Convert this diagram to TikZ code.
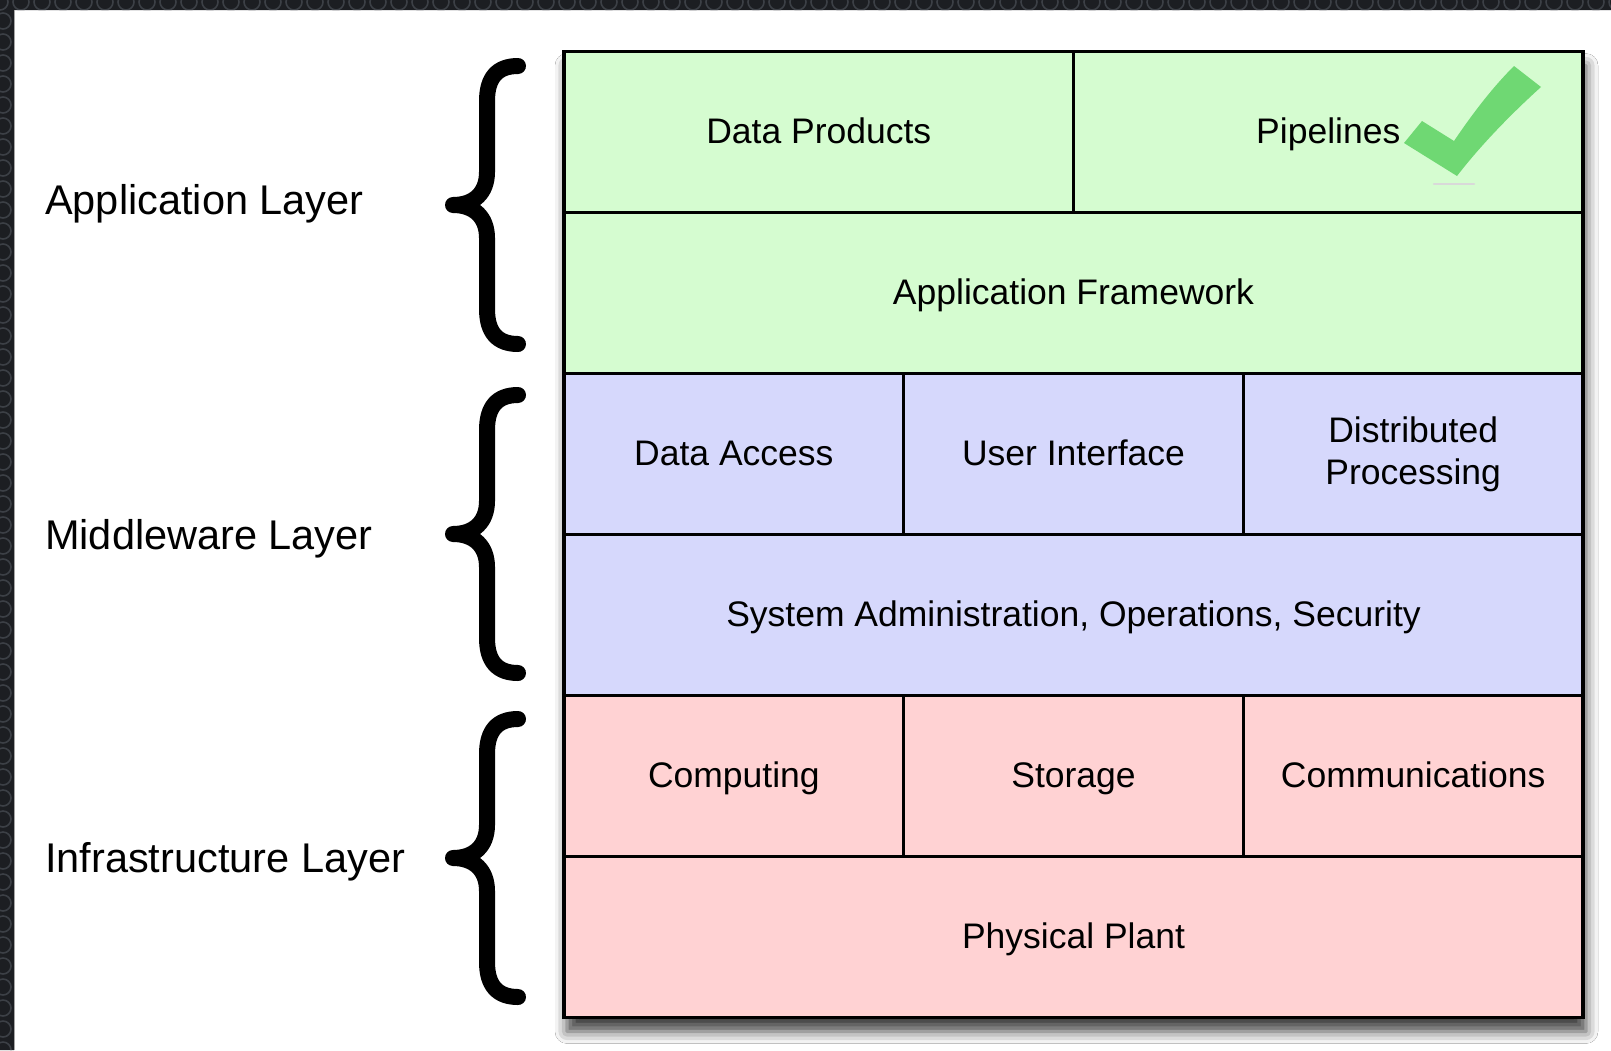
\documentclass[tikz,border=0pt]{standalone}
\usepackage{fontspec}
\setmainfont{Liberation Sans}
\usetikzlibrary{shadows.blur}

\definecolor{appgreen}{RGB}{213,252,208}
\definecolor{midblue}{RGB}{214,216,252}
\definecolor{infrapink}{RGB}{255,210,211}
\definecolor{tickgreen}{RGB}{111,216,115}
\definecolor{framedark}{RGB}{28,30,34}
\definecolor{framedot}{RGB}{60,64,70}

% curly brace with its tip at height #1
\newcommand\layerbrace[2]{%
  \draw[bracestroke] (518,#1-139) coordinate (#2-top)
    .. controls (497,#1-139) and (487,#1-127) .. (487,#1-104)
    -- (487,#1-33)
    .. controls (487,#1-12) and (474,#1) .. (453,#1) coordinate (#2)
    .. controls (474,#1) and (487,#1+12) .. (487,#1+33)
    -- (487,#1+104)
    .. controls (487,#1+127) and (497,#1+139) .. (518,#1+139) coordinate (#2-bottom);}

\begin{document}
\begin{tikzpicture}[x=1pt,y=-1pt,
  cell/.style={draw=black, line width=2.5pt, rectangle, inner sep=0pt,
    minimum height=161pt, font=\fontsize{35.5}{42}\selectfont,
    text height=25.5pt, text depth=3.5pt},
  half/.style={cell, minimum width=509.5pt},
  third/.style={cell, minimum width=339.67pt},
  whole/.style={cell, minimum width=1019pt},
  twoline/.style={draw=black, line width=2.5pt, rectangle, inner sep=0pt,
    minimum height=161pt, minimum width=339.67pt, align=center,
    font=\fontsize{35.5}{42}\selectfont},
  layerlabel/.style={anchor=west, inner sep=0pt,
    font=\fontsize{41.5}{48}\selectfont, text height=30pt, text depth=8.7pt},
  bracestroke/.style={line width=16pt, line cap=round, line join=round},
]
\useasboundingbox (0,0) rectangle (1611,1050);
\fill[white] (0,0) rectangle (1611,1050);

% dark textured frame along the top and left edges
\fill[framedark] (0,0) -- (1611,0) -- (1611,10) -- (14,10) -- (14,1050) -- (0,1050) -- cycle;
\begin{scope}
  \clip (0,0) -- (1611,0) -- (1611,10) -- (14,10) -- (14,1050) -- (0,1050) -- cycle;
  \foreach \i in {0,21,...,1620} \draw[framedot, line width=1.6pt] (\i,2) circle[radius=8pt];
  \foreach \i in {21,42,...,1060} \draw[framedot, line width=1.6pt] (3,\i) circle[radius=8pt];
\end{scope}
\draw[gray!70, line width=1pt] (14.5,10) -- (14.5,1050);

% panel backing with drop shadow
\node[draw=none, fill=white, inner sep=0pt, minimum width=1019pt, minimum height=966pt,
  blur shadow={shadow xshift=3pt, shadow yshift=-14pt, shadow blur radius=12pt, shadow opacity=75}]
  (panel) at (1073.5,534.5) {};

% application layer
\node[half, fill=appgreen] (dp) at (818.75,132) {Data Products};
\node[half, fill=appgreen] (pl) at (1328.25,132) {Pipelines};
\node[whole, fill=appgreen] (af) at (1073.5,293) {Application Framework};

% middleware layer
\node[third, fill=midblue] (da) at (733.83,454) {Data Access};
\node[third, fill=midblue] (ui) at (1073.5,454) {User Interface};
\node[twoline, fill=midblue] (dpr) at (1413.17,454) {Distributed\\Processing};
\node[whole, fill=midblue] (sao) at (1073.5,615) {System Administration, Operations, Security};

% infrastructure layer
\node[third, fill=infrapink] (comp) at (733.83,776) {Computing};
\node[third, fill=infrapink] (stor) at (1073.5,776) {Storage};
\node[third, fill=infrapink] (comm) at (1413.17,776) {Communications};
\node[whole, fill=infrapink] (pp) at (1073.5,937) {Physical Plant};

% outer border
\draw[line width=3.5pt] (panel.north west) rectangle (panel.south east);

% check mark next to Pipelines
\draw[gray!30, line width=2.5pt, line cap=round] (1434,184) -- (1474,184);
\fill[tickgreen] (1404,143) -- (1422,121) -- (1454,141)
  .. controls (1475,110) and (1494,86) .. (1514,66) -- (1541,87)
  .. controls (1511,114) and (1480,146) .. (1457,176) -- cycle;

% braces and layer names
\layerbrace{205}{appbrace}
\layerbrace{534}{midbrace}
\layerbrace{858}{infbrace}
\node[layerlabel] (applbl) at (45,204) {Application Layer};
\node[layerlabel] (midlbl) at (45,539) {Middleware Layer};
\node[layerlabel] (inflbl) at (45,862) {Infrastructure Layer};
\end{tikzpicture}
\end{document}
